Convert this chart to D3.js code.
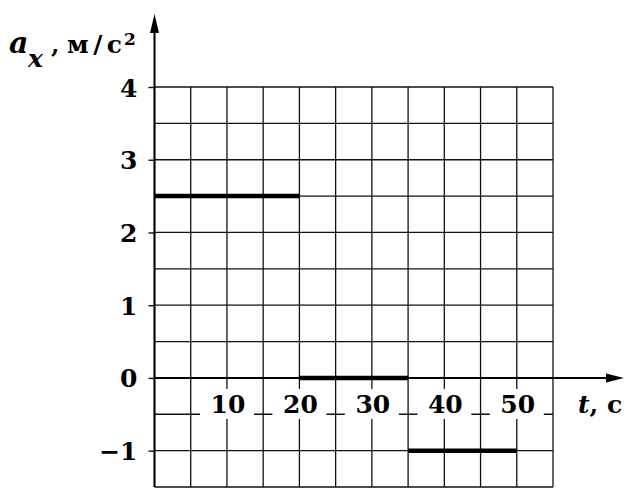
<!DOCTYPE html>
<html><head><meta charset="utf-8">
<script src="https://cdn.jsdelivr.net/npm/d3@7"></script>
<style>
html,body{margin:0;padding:0;background:#fff;}
svg{display:block;}
text{font-family:"DejaVu Serif",serif;font-weight:bold;fill:#000;}
</style></head>
<body><svg id="c" width="634" height="498"></svg>
<script>
// data
const segStart = [0, 20, 35];
const segEnd   = [20, 35, 50];
const segValue = [2.5, 0, -1];
const yTicks = [-1, 0, 1, 2, 3, 4];
const xTicks = [10, 20, 30, 40, 50];
const xGrid = d3.range(0, 55.01, 5);
const yGrid = d3.range(-1.5, 4.01, 0.5);

const svg = d3.select("#c");
const x = d3.scaleLinear().domain([0, 55]).range([154.5, 553]);
const y = d3.scaleLinear().domain([-1.5, 4]).range([487, 87]);

// grid
const g = svg.append("g").attr("stroke", "#111").attr("stroke-width", 1.3);
g.selectAll("line.v").data(xGrid).join("line")
  .attr("x1", d => x(d)).attr("x2", d => x(d))
  .attr("y1", y(-1.5)).attr("y2", y(4));
g.selectAll("line.h").data(yGrid).join("line")
  .attr("y1", d => y(d)).attr("y2", d => y(d))
  .attr("x1", x(0)).attr("x2", x(55));

// x tick labels with white backgrounds
const xl = svg.append("g");
xl.selectAll("rect").data(xTicks).join("rect")
  .attr("x", d => x(d) - 27).attr("y", y(0) + 11)
  .attr("width", 54).attr("height", 30).attr("fill", "#fff");
xl.selectAll("text").data(xTicks).join("text")
  .attr("x", d => x(d) + 1).attr("y", y(0) + 35)
  .attr("text-anchor", "middle").attr("font-size", 25)
  .text(d => d);

// y axis with ticks and labels
const yAxis = d3.axisLeft(y).tickValues(yTicks).tickSize(6).tickPadding(11)
  .tickFormat(d => d < 0 ? "\u2212" + Math.abs(d) : d);
const ya = svg.append("g").attr("transform", `translate(${x(0)},0)`).call(yAxis);
ya.select(".domain").remove();
ya.selectAll(".tick line").attr("stroke", "#111").attr("stroke-width", 1.4);
ya.selectAll(".tick text").attr("font-size", 25).attr("font-family", "DejaVu Serif").attr("font-weight", "bold").attr("dy", "0.36em");

// axes lines with arrows
svg.append("line").attr("x1", x(0)).attr("x2", x(0)).attr("y1", y(-1.5)).attr("y2", 22)
  .attr("stroke", "#000").attr("stroke-width", 2);
svg.append("path").attr("d", `M${x(0)},14 L${x(0)-4.5},33 L${x(0)+4.5},33 Z`).attr("fill", "#000");
svg.append("line").attr("x1", x(0)).attr("x2", 615).attr("y1", y(0)).attr("y2", y(0))
  .attr("stroke", "#000").attr("stroke-width", 2);
svg.append("path").attr("d", `M624,${y(0)} L606,${y(0)-4.5} L606,${y(0)+4.5} Z`).attr("fill", "#000");

// data segments
svg.selectAll("line.seg").data(segValue).join("line")
  .attr("x1", (d, i) => x(segStart[i])).attr("x2", (d, i) => x(segEnd[i]))
  .attr("y1", d => y(d)).attr("y2", d => y(d))
  .attr("stroke", "#000").attr("stroke-width", 4.5);

// axis titles
const t = svg.append("g");
t.append("text").attr("x", 9).attr("y", 53).attr("font-size", 30).attr("font-style", "italic").text("a");
t.append("text").attr("x", 28).attr("y", 67).attr("font-size", 25).attr("font-style", "italic").text("x");
t.append("text").attr("x", 51).attr("y", 53).attr("font-size", 24).text(",");
t.append("text").attr("x", 67).attr("y", 53).attr("font-size", 25)
  .attr("textLength", 55).attr("lengthAdjust", "spacing").text("м/с");
t.append("text").attr("x", 124).attr("y", 45).attr("font-size", 17).text("2");

const xt = svg.append("text").attr("x", 578).attr("y", 413).attr("font-size", 25);
xt.append("tspan").attr("font-style", "italic").text("t");
xt.append("tspan").text(", с");
</script></body></html>
